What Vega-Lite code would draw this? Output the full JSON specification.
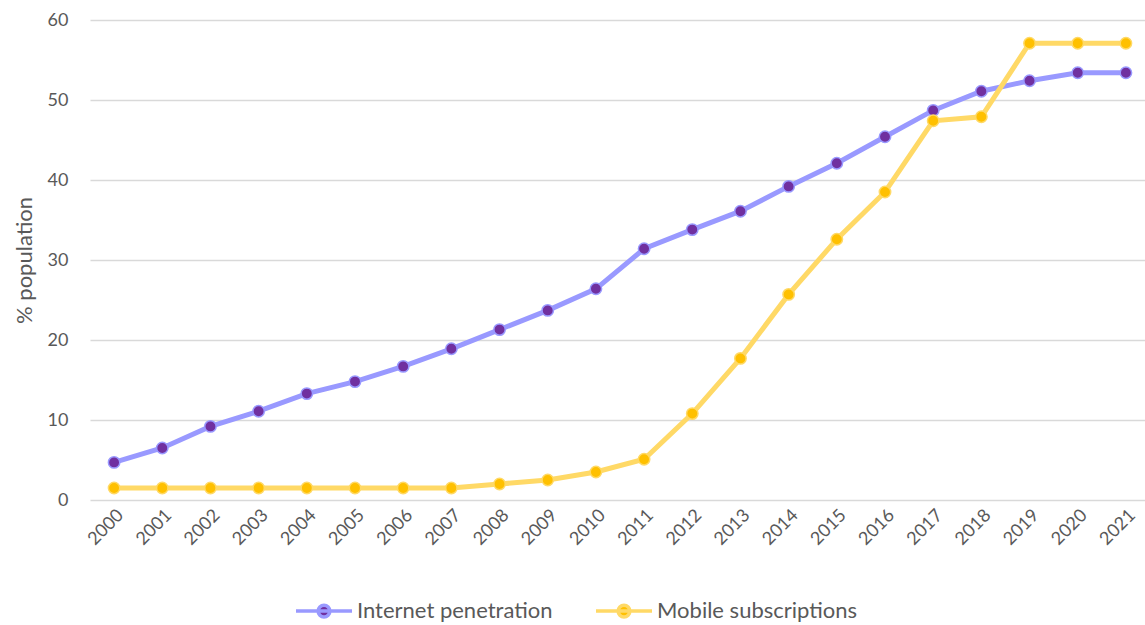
{
  "$schema": "https://vega.github.io/schema/vega-lite/v6.json",
  "width": 1060,
  "height": 480,
  "autosize": {"type": "none"},
  "padding": {"left": 90, "top": 20, "right": 0, "bottom": 125},
  "background": "white",
  "config": {
    "font": "Lato",
    "view": {"stroke": null},
    "axis": {"labelFont": "Lato", "titleFont": "Lato", "labelColor": "#595959", "titleColor": "#595959"},
    "legend": {
      "labelFont": "Lato", "labelColor": "#595959",
      "orient": "none", "legendX": 204, "legendY": 561, "direction": "horizontal",
      "labelFontSize": 22, "columnPadding": 36, "labelLimit": 400,
      "symbolType": "M-1,0H1M-0.21,0A0.21,0.21,0,1,1,0.21,0A0.21,0.21,0,1,1,-0.21,0Z",
      "symbolSize": 3136, "symbolStrokeWidth": 3.5, "labelOffset": 3
    }
  },
  "data": {
    "values": [
      {"year": "2000", "series": "Internet penetration", "value": 4.7},
      {"year": "2001", "series": "Internet penetration", "value": 6.5},
      {"year": "2002", "series": "Internet penetration", "value": 9.2},
      {"year": "2003", "series": "Internet penetration", "value": 11.1},
      {"year": "2004", "series": "Internet penetration", "value": 13.3},
      {"year": "2005", "series": "Internet penetration", "value": 14.8},
      {"year": "2006", "series": "Internet penetration", "value": 16.7},
      {"year": "2007", "series": "Internet penetration", "value": 18.9},
      {"year": "2008", "series": "Internet penetration", "value": 21.3},
      {"year": "2009", "series": "Internet penetration", "value": 23.7},
      {"year": "2010", "series": "Internet penetration", "value": 26.4},
      {"year": "2011", "series": "Internet penetration", "value": 31.4},
      {"year": "2012", "series": "Internet penetration", "value": 33.8},
      {"year": "2013", "series": "Internet penetration", "value": 36.1},
      {"year": "2014", "series": "Internet penetration", "value": 39.2},
      {"year": "2015", "series": "Internet penetration", "value": 42.1},
      {"year": "2016", "series": "Internet penetration", "value": 45.4},
      {"year": "2017", "series": "Internet penetration", "value": 48.7},
      {"year": "2018", "series": "Internet penetration", "value": 51.1},
      {"year": "2019", "series": "Internet penetration", "value": 52.4},
      {"year": "2020", "series": "Internet penetration", "value": 53.4},
      {"year": "2021", "series": "Internet penetration", "value": 53.4},
      {"year": "2000", "series": "Mobile subscriptions", "value": 1.5},
      {"year": "2001", "series": "Mobile subscriptions", "value": 1.5},
      {"year": "2002", "series": "Mobile subscriptions", "value": 1.5},
      {"year": "2003", "series": "Mobile subscriptions", "value": 1.5},
      {"year": "2004", "series": "Mobile subscriptions", "value": 1.5},
      {"year": "2005", "series": "Mobile subscriptions", "value": 1.5},
      {"year": "2006", "series": "Mobile subscriptions", "value": 1.5},
      {"year": "2007", "series": "Mobile subscriptions", "value": 1.5},
      {"year": "2008", "series": "Mobile subscriptions", "value": 2.0},
      {"year": "2009", "series": "Mobile subscriptions", "value": 2.5},
      {"year": "2010", "series": "Mobile subscriptions", "value": 3.5},
      {"year": "2011", "series": "Mobile subscriptions", "value": 5.1},
      {"year": "2012", "series": "Mobile subscriptions", "value": 10.8},
      {"year": "2013", "series": "Mobile subscriptions", "value": 17.7},
      {"year": "2014", "series": "Mobile subscriptions", "value": 25.7},
      {"year": "2015", "series": "Mobile subscriptions", "value": 32.6},
      {"year": "2016", "series": "Mobile subscriptions", "value": 38.5},
      {"year": "2017", "series": "Mobile subscriptions", "value": 47.4},
      {"year": "2018", "series": "Mobile subscriptions", "value": 47.9},
      {"year": "2019", "series": "Mobile subscriptions", "value": 57.1},
      {"year": "2020", "series": "Mobile subscriptions", "value": 57.1},
      {"year": "2021", "series": "Mobile subscriptions", "value": 57.1}
    ]
  },
  "encoding": {
    "x": {
      "field": "year", "type": "ordinal",
      "scale": {"type": "point", "padding": 0.5},
      "axis": {"title": null, "labelAngle": -45, "labelFontSize": 18, "ticks": false, "domain": false, "grid": false, "labelPadding": 6}
    },
    "y": {
      "field": "value", "type": "quantitative",
      "scale": {"domain": [0, 60]},
      "axis": {"title": "% population", "titleFontSize": 22, "titleFontWeight": "normal", "titlePadding": 11, "labelFontSize": 18, "values": [0, 10, 20, 30, 40, 50, 60], "labelOverlap": false, "ticks": false, "domain": false, "gridColor": "#d9d9d9", "gridWidth": 1.5, "labelPadding": 22}
    }
  },
  "layer": [
    {
      "mark": {"type": "line", "strokeWidth": 5},
      "encoding": {
        "stroke": {
          "field": "series", "type": "nominal",
          "scale": {"domain": ["Internet penetration", "Mobile subscriptions"], "range": ["#9999FF", "#FFD966"]},
          "legend": {"title": null}
        }
      }
    },
    {
      "mark": {"type": "point", "filled": true, "size": 130, "strokeWidth": 1.5, "opacity": 1},
      "encoding": {
        "fill": {
          "field": "series", "type": "nominal",
          "scale": {"domain": ["Internet penetration", "Mobile subscriptions"], "range": ["#7030A0", "#FFC000"]},
          "legend": {"title": null}
        },
        "stroke": {"field": "series", "type": "nominal"}
      }
    }
  ]
}
